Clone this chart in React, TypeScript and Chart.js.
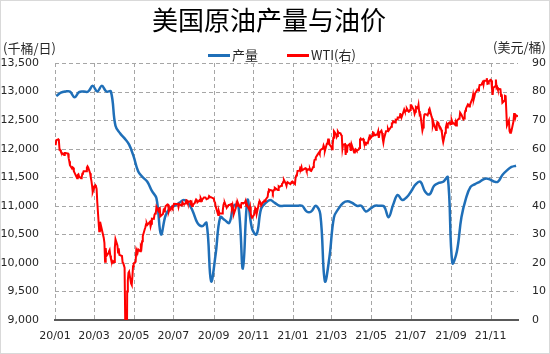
import React, { useEffect, useRef } from 'react';
import { Chart, registerables } from 'chart.js';

Chart.register(...registerables);

const chartTitle = '美国原油产量与油价';
const leftUnit = '(千桶/日)';
const rightUnit = '(美元/桶)';
const seriesNames = ['产量', 'WTI(右)'];

// x axis: days since 2020-01-01
const xTickDays = [0, 60, 121, 182, 244, 305, 366, 425, 486, 547, 609, 670];
const xTickLabels = ['20/01', '20/03', '20/05', '20/07', '20/09', '20/11', '21/01', '21/03', '21/05', '21/07', '21/09', '21/11'];
const xMaxDay = 712;

// weekly US crude output (kb/d): first week at day 2, one value per 7 days
const prodStartDay = 2;
const prodStepDays = 7;
const prodValues = [
  12920, 12980, 13000, 13000, 12900, 12990, 13000, 13000, 13100, 13000,
  13100, 13000, 13000, 12400, 12270, 12180, 12070, 11860, 11600, 11500,
  11420, 11260, 11130, 10500, 10830, 10960, 11000, 11050, 11100, 11050,
  10900, 10700, 10640, 10700, 9680, 10150, 10800, 10750, 10700, 11000,
  11000, 9900, 11100, 10600, 10500, 10950, 11050, 11100, 11050, 11000,
  11000, 11000, 11000, 11000, 11000, 10900, 10900, 11000, 10850, 9680,
  10100, 10800, 10950, 11050, 11080, 11050, 11000, 11000, 10900, 10950,
  11000, 11000, 10990, 10800, 11020, 11190, 11100, 11150, 11260, 11380,
  11420, 11250, 11200, 11350, 11400, 11420, 11500, 10000, 10200, 10800,
  11130, 11330, 11380, 11420, 11470, 11470, 11430, 11420, 11540, 11620,
  11680, 11700,
];

// WTI (USD/bbl), trading days, "M/D"
const wti2020Dates = [
  '1/2', '1/3', '1/6', '1/7', '1/8', '1/9', '1/10', '1/13', '1/14', '1/15', '1/16', '1/17', '1/21', '1/22', '1/23', '1/24', '1/27', '1/28', '1/29', '1/30', '1/31',
  '2/3', '2/4', '2/5', '2/6', '2/7', '2/10', '2/11', '2/12', '2/13', '2/14', '2/18', '2/19', '2/20', '2/21', '2/24', '2/25', '2/26', '2/27', '2/28',
  '3/2', '3/3', '3/4', '3/5', '3/6', '3/9', '3/10', '3/11', '3/12', '3/13', '3/16', '3/17', '3/18', '3/19', '3/20', '3/23', '3/24', '3/25', '3/26', '3/27', '3/30', '3/31',
  '4/1', '4/2', '4/3', '4/6', '4/7', '4/8', '4/9', '4/13', '4/14', '4/15', '4/16', '4/17', '4/20', '4/21', '4/22', '4/23', '4/24', '4/27', '4/28', '4/29', '4/30',
  '5/1', '5/4', '5/5', '5/6', '5/7', '5/8', '5/11', '5/12', '5/13', '5/14', '5/15', '5/18', '5/19', '5/20', '5/21', '5/22', '5/26', '5/27', '5/28', '5/29',
  '6/1', '6/2', '6/3', '6/4', '6/5', '6/8', '6/9', '6/10', '6/11', '6/12', '6/15', '6/16', '6/17', '6/18', '6/19', '6/22', '6/23', '6/24', '6/25', '6/26', '6/29', '6/30',
  '7/1', '7/2', '7/6', '7/7', '7/8', '7/9', '7/10', '7/13', '7/14', '7/15', '7/16', '7/17', '7/20', '7/21', '7/22', '7/23', '7/24', '7/27', '7/28', '7/29', '7/30', '7/31',
  '8/3', '8/4', '8/5', '8/6', '8/7', '8/10', '8/11', '8/12', '8/13', '8/14', '8/17', '8/18', '8/19', '8/20', '8/21', '8/24', '8/25', '8/26', '8/27', '8/28', '8/31',
  '9/1', '9/2', '9/3', '9/4', '9/8', '9/9', '9/10', '9/11', '9/14', '9/15', '9/16', '9/17', '9/18', '9/21', '9/22', '9/23', '9/24', '9/25', '9/28', '9/29', '9/30',
  '10/1', '10/2', '10/5', '10/6', '10/7', '10/8', '10/9', '10/12', '10/13', '10/14', '10/15', '10/16', '10/19', '10/20', '10/21', '10/22', '10/23', '10/26', '10/27', '10/28', '10/29', '10/30',
  '11/2', '11/3', '11/4', '11/5', '11/6', '11/9', '11/10', '11/11', '11/12', '11/13', '11/16', '11/17', '11/18', '11/19', '11/20', '11/23', '11/24', '11/25', '11/27', '11/30',
  '12/1', '12/2', '12/3', '12/4', '12/7', '12/8', '12/9', '12/10', '12/11', '12/14', '12/15', '12/16', '12/17', '12/18', '12/21', '12/22', '12/23', '12/24', '12/28', '12/29', '12/30', '12/31',
];
const wti2020Values = [
  61.2, 63.0, 63.3, 62.7, 59.6, 59.6, 59.0, 58.1, 58.2, 57.8, 58.5, 58.5, 58.3, 56.7, 55.6, 54.2, 53.1, 53.5, 53.3, 52.1, 51.6,
  50.1, 49.6, 50.8, 51.0, 50.3, 49.6, 49.9, 51.2, 51.4, 52.1, 52.1, 53.3, 53.8, 53.4, 51.4, 49.9, 48.7, 47.1, 44.8,
  46.8, 47.2, 46.8, 45.9, 41.3, 31.1, 34.4, 33.0, 31.5, 31.7, 28.7, 27.0, 20.4, 25.2, 22.4, 23.4, 24.0, 24.5, 22.6, 21.5, 20.1, 20.5,
  20.3, 25.3, 28.3, 26.1, 23.6, 25.1, 22.8, 22.4, 20.1, 19.9, 19.9, 18.3, -37.6, 10.0, 13.8, 16.5, 16.9, 12.8, 12.3, 15.1, 18.8,
  19.8, 20.4, 24.6, 24.0, 23.6, 24.7, 24.1, 25.8, 25.3, 27.6, 29.4, 31.8, 32.5, 33.5, 33.9, 33.3, 34.4, 32.8, 33.7, 35.5,
  35.4, 36.8, 37.3, 37.4, 39.6, 38.2, 38.9, 39.6, 36.3, 36.3, 37.1, 38.4, 38.0, 38.8, 39.8, 40.5, 40.4, 38.0, 38.7, 38.5, 39.7, 39.3,
  39.8, 40.7, 40.6, 40.6, 40.9, 39.6, 40.6, 40.1, 40.3, 41.2, 40.8, 40.6, 40.8, 42.0, 41.9, 41.1, 41.3, 41.6, 41.0, 41.3, 39.9, 40.3,
  41.0, 41.7, 42.2, 42.0, 41.2, 41.9, 41.6, 42.7, 42.2, 42.0, 42.9, 42.9, 42.9, 42.8, 42.3, 42.6, 43.4, 43.4, 43.0, 43.0, 42.6,
  42.8, 41.5, 41.4, 39.8, 36.8, 38.1, 37.3, 37.3, 37.3, 38.3, 40.2, 41.0, 41.1, 39.3, 39.8, 39.9, 40.3, 40.3, 40.6, 39.3, 40.2,
  38.7, 37.1, 39.2, 40.7, 40.0, 41.2, 40.6, 39.4, 40.2, 41.0, 41.0, 40.9, 41.1, 41.7, 40.0, 40.6, 39.9, 38.6, 39.6, 37.4, 36.2, 35.8,
  36.8, 37.7, 39.2, 38.8, 37.1, 40.3, 41.4, 41.5, 41.1, 40.1, 41.3, 41.4, 41.8, 41.7, 42.2, 43.1, 44.9, 45.7, 45.5, 45.3,
  44.6, 45.3, 45.6, 46.3, 45.8, 45.6, 45.5, 46.8, 46.6, 47.0, 47.6, 47.8, 48.4, 49.1, 47.7, 47.0, 48.1, 48.2, 47.6, 48.0, 48.4, 48.5,
];
const wti2021Dates = [
  '1/4', '1/5', '1/6', '1/7', '1/8', '1/11', '1/12', '1/13', '1/14', '1/15', '1/19', '1/20', '1/21', '1/22', '1/25', '1/26', '1/27', '1/28', '1/29',
  '2/1', '2/2', '2/3', '2/4', '2/5', '2/8', '2/9', '2/10', '2/11', '2/12', '2/16', '2/17', '2/18', '2/19', '2/22', '2/23', '2/24', '2/25', '2/26',
  '3/1', '3/2', '3/3', '3/4', '3/5', '3/8', '3/9', '3/10', '3/11', '3/12', '3/15', '3/16', '3/17', '3/18', '3/19', '3/22', '3/23', '3/24', '3/25', '3/26', '3/29', '3/30', '3/31',
  '4/1', '4/5', '4/6', '4/7', '4/8', '4/9', '4/12', '4/13', '4/14', '4/15', '4/16', '4/19', '4/20', '4/21', '4/22', '4/23', '4/26', '4/27', '4/28', '4/29', '4/30',
  '5/3', '5/4', '5/5', '5/6', '5/7', '5/10', '5/11', '5/12', '5/13', '5/14', '5/17', '5/18', '5/19', '5/20', '5/21', '5/24', '5/25', '5/26', '5/27', '5/28',
  '6/1', '6/2', '6/3', '6/4', '6/7', '6/8', '6/9', '6/10', '6/11', '6/14', '6/15', '6/16', '6/17', '6/18', '6/21', '6/22', '6/23', '6/24', '6/25', '6/28', '6/29', '6/30',
  '7/1', '7/2', '7/6', '7/7', '7/8', '7/9', '7/12', '7/13', '7/14', '7/15', '7/16', '7/19', '7/20', '7/21', '7/22', '7/23', '7/26', '7/27', '7/28', '7/29', '7/30',
  '8/2', '8/3', '8/4', '8/5', '8/6', '8/9', '8/10', '8/11', '8/12', '8/13', '8/16', '8/17', '8/18', '8/19', '8/20', '8/23', '8/24', '8/25', '8/26', '8/27', '8/30', '8/31',
  '9/1', '9/2', '9/3', '9/7', '9/8', '9/9', '9/10', '9/13', '9/14', '9/15', '9/16', '9/17', '9/20', '9/21', '9/22', '9/23', '9/24', '9/27', '9/28', '9/29', '9/30',
  '10/1', '10/4', '10/5', '10/6', '10/7', '10/8', '10/11', '10/12', '10/13', '10/14', '10/15', '10/18', '10/19', '10/20', '10/21', '10/22', '10/25', '10/26', '10/27', '10/28', '10/29',
  '11/1', '11/2', '11/3', '11/4', '11/5', '11/8', '11/9', '11/10', '11/11', '11/12', '11/15', '11/16', '11/17', '11/18', '11/19', '11/22', '11/23', '11/24', '11/26', '11/29', '11/30',
  '12/1', '12/2', '12/3', '12/6', '12/7', '12/8', '12/9', '12/10', '12/13',
];
const wti2021Values = [
  47.6, 49.9, 50.6, 50.8, 52.2, 52.3, 53.2, 52.9, 53.6, 52.4, 53.0, 53.2, 53.1, 52.3, 52.8, 52.6, 52.9, 52.3, 52.2,
  53.6, 54.8, 56.0, 56.2, 56.9, 58.0, 58.4, 58.7, 58.2, 59.5, 60.1, 61.1, 60.5, 59.2, 61.7, 61.7, 63.2, 63.5, 61.5,
  60.6, 59.8, 61.3, 63.8, 66.1, 65.1, 64.0, 64.4, 66.0, 65.6, 65.4, 64.8, 64.6, 60.0, 61.4, 61.6, 57.8, 61.2, 58.6, 61.0, 61.6, 60.6, 59.2,
  61.5, 58.7, 59.3, 59.8, 59.6, 59.3, 59.7, 60.2, 63.2, 63.5, 63.1, 63.4, 62.4, 61.4, 61.4, 62.1, 61.9, 62.9, 63.9, 65.0, 63.6,
  64.5, 65.7, 65.6, 64.7, 64.9, 64.9, 65.3, 66.1, 63.8, 65.4, 66.3, 65.5, 63.4, 62.1, 63.6, 66.1, 66.1, 66.2, 66.9, 66.3,
  67.7, 68.8, 68.8, 69.6, 69.2, 70.1, 70.0, 70.3, 70.9, 70.9, 72.1, 72.2, 71.0, 71.6, 73.7, 73.1, 73.1, 73.3, 74.1, 72.9, 73.0, 73.5,
  75.2, 75.2, 73.4, 72.2, 72.9, 74.6, 74.1, 75.3, 73.1, 71.7, 71.8, 66.4, 67.4, 70.3, 71.9, 72.1, 71.9, 71.7, 72.4, 73.6, 74.0,
  71.3, 70.6, 68.2, 69.1, 68.3, 66.5, 68.3, 69.3, 69.1, 68.4, 67.3, 66.6, 65.5, 63.5, 62.3, 65.6, 67.5, 68.4, 67.4, 68.7, 69.2, 68.5,
  68.6, 70.0, 69.3, 68.4, 69.3, 68.1, 69.7, 70.5, 70.5, 72.6, 72.6, 71.9, 70.3, 70.6, 72.2, 73.3, 74.0, 75.5, 75.3, 74.8, 75.0,
  75.9, 77.6, 78.9, 77.4, 78.3, 79.4, 80.5, 80.6, 80.4, 81.3, 82.3, 82.4, 83.0, 83.9, 82.5, 83.8, 83.8, 84.7, 82.7, 82.8, 83.6,
  84.1, 83.9, 80.9, 78.8, 81.3, 81.9, 84.2, 81.3, 81.6, 80.8, 80.9, 80.8, 78.4, 79.0, 76.1, 76.8, 78.5, 78.4, 68.2, 69.9, 66.2,
  65.6, 66.5, 66.3, 69.5, 72.1, 72.4, 70.9, 71.7, 71.3,
];

const leftTicks = { min: 9000, max: 13500, step: 500 };
const rightTicks = { min: 0, max: 90, step: 10 };

const BLUE = '#1F6FB8';
const RED = '#FF0000';
const GRID = '#A6A6A6';
const TEXT = '#262626';
const NUM_FONT = '"DejaVu Sans", "Liberation Sans", sans-serif';
const CJK_FONT = '"Noto Sans CJK SC", "Noto Sans", sans-serif';

const DAY_MS = 86400000;
const BASE = Date.UTC(2020, 0, 1);
function dayIndex(year: number, md: string): number {
  const [m, d] = md.split('/').map(Number);
  return Math.round((Date.UTC(year, m - 1, d) - BASE) / DAY_MS);
}

const gridPlugin = {
  id: 'dashGrid',
  beforeDatasetsDraw(chart: any) {
    const { ctx, chartArea: a, scales } = chart;
    ctx.save();
    ctx.strokeStyle = GRID;
    ctx.lineWidth = 1;
    ctx.setLineDash([4, 3]);
    scales.y.ticks.forEach((t: any) => {
      if (t.value <= leftTicks.min) return;
      const y = Math.round(scales.y.getPixelForValue(t.value)) + 0.5;
      ctx.beginPath();
      ctx.moveTo(a.left, y);
      ctx.lineTo(a.right, y);
      ctx.stroke();
    });
    scales.x.ticks.forEach((t: any) => {
      const x = Math.round(scales.x.getPixelForValue(t.value)) + 0.5;
      ctx.beginPath();
      ctx.moveTo(x, a.top);
      ctx.lineTo(x, a.bottom);
      ctx.stroke();
    });
    ctx.restore();
  },
};

const decoPlugin = {
  id: 'deco',
  afterDraw(chart: any) {
    const ctx = chart.ctx as CanvasRenderingContext2D;
    ctx.save();
    ctx.strokeStyle = '#D9D9D9';
    ctx.lineWidth = 1;
    ctx.strokeRect(0.5, 0.5, chart.width - 1, chart.height - 1);

    ctx.fillStyle = '#000';
    ctx.textBaseline = 'middle';
    ctx.textAlign = 'center';
    ctx.font = `26px ${CJK_FONT}`;
    ctx.fillText(chartTitle, 269, 20);

    ctx.font = `13px ${CJK_FONT}`;
    ctx.fillStyle = TEXT;
    ctx.textAlign = 'left';
    ctx.fillText(leftUnit, 3, 48);
    ctx.textAlign = 'right';
    ctx.fillText(rightUnit, 546, 47);

    const items = [
      { name: seriesNames[0], color: BLUE, x: 208 },
      { name: seriesNames[1], color: RED, x: 287 },
    ];
    ctx.textAlign = 'left';
    items.forEach((it) => {
      ctx.strokeStyle = it.color;
      ctx.lineWidth = 3;
      ctx.beginPath();
      ctx.moveTo(it.x, 55.5);
      ctx.lineTo(it.x + 22, 55.5);
      ctx.stroke();
      ctx.fillStyle = TEXT;
      ctx.fillText(it.name, it.x + 24, 55);
    });
    ctx.restore();
  },
};

export default function App() {
  const ref = useRef<HTMLCanvasElement | null>(null);

  useEffect(() => {
    document.body.style.margin = '0';
    const canvas = ref.current;
    if (!canvas) return;
    const wtiPoints = [
      ...wti2020Dates.map((md, i) => ({ x: dayIndex(2020, md), y: wti2020Values[i] })),
      ...wti2021Dates.map((md, i) => ({ x: dayIndex(2021, md), y: wti2021Values[i] })),
    ];
    const chart = new Chart(canvas, {
      type: 'line',
      data: {
        datasets: [
          {
            label: seriesNames[0],
            data: prodValues.map((v, i) => ({ x: prodStartDay + prodStepDays * i, y: v })),
            yAxisID: 'y',
            borderColor: BLUE,
            borderWidth: 2.5,
            pointRadius: 0,
            tension: 0.4,
            order: 1,
          },
          {
            label: seriesNames[1],
            data: wtiPoints,
            yAxisID: 'y1',
            borderColor: RED,
            borderWidth: 2,
            pointRadius: 0,
            tension: 0,
            order: 0,
          },
        ],
      },
      options: {
        responsive: false,
        animation: false,
        layout: { padding: { top: 63, left: 0, right: 0, bottom: 0 } },
        plugins: {
          legend: { display: false },
          title: { display: false },
          tooltip: { enabled: false },
        },
        scales: {
          x: {
            type: 'linear',
            min: 0,
            max: xMaxDay,
            afterBuildTicks: (s: any) => {
              s.ticks = xTickDays.map((v) => ({ value: v }));
            },
            afterFit: (s: any) => {
              s.height = 34;
            },
            grid: { display: false, drawTicks: false },
            border: { display: true, color: '#595959', width: 2 },
            ticks: {
              autoSkip: false,
              maxRotation: 0,
              padding: 10,
              color: TEXT,
              font: { family: NUM_FONT, size: 11 },
              callback: (_v: any, i: number) => xTickLabels[i],
            },
          },
          y: {
            position: 'left',
            min: leftTicks.min,
            max: leftTicks.max,
            afterFit: (s: any) => {
              s.width = 55;
            },
            grid: { display: false, drawTicks: false },
            border: { display: false },
            ticks: {
              stepSize: leftTicks.step,
              padding: 16,
              color: TEXT,
              font: { family: NUM_FONT, size: 11 },
              callback: (v: any) => Number(v).toLocaleString('en-US'),
            },
          },
          y1: {
            position: 'right',
            min: rightTicks.min,
            max: rightTicks.max,
            afterFit: (s: any) => {
              s.width = 32;
            },
            grid: { display: false, drawTicks: false },
            border: { display: false },
            ticks: {
              stepSize: rightTicks.step,
              padding: 14,
              color: TEXT,
              font: { family: NUM_FONT, size: 11 },
            },
          },
        },
      },
      plugins: [gridPlugin, decoPlugin],
    } as any);
    return () => chart.destroy();
  }, []);

  return (
    <div style={{ position: 'absolute', left: 0, top: 0, width: 550, height: 354, background: '#fff' }}>
      <canvas ref={ref} width={550} height={354} style={{ display: 'block' }} />
    </div>
  );
}
